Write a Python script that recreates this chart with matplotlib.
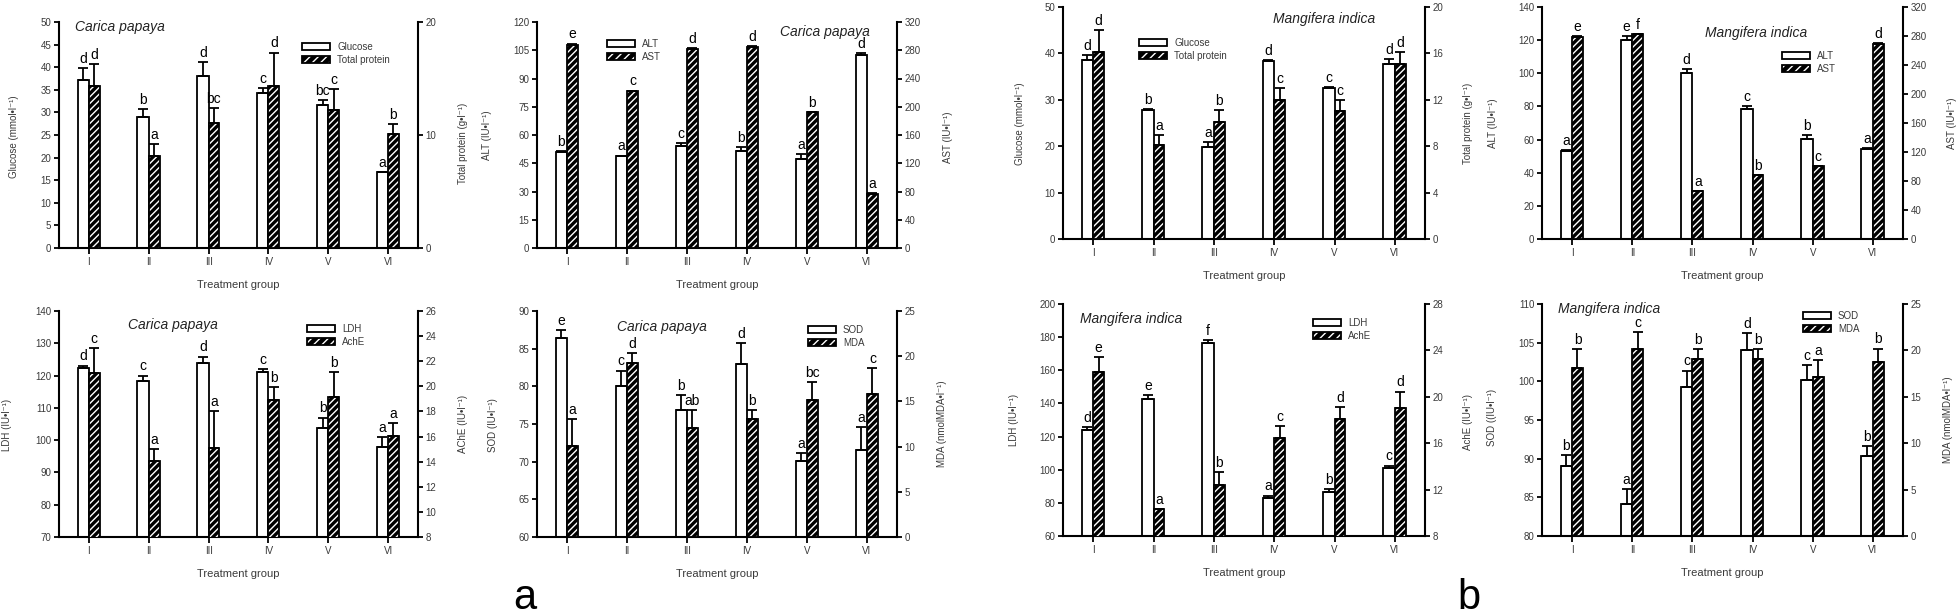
import matplotlib
matplotlib.use('Agg')
import matplotlib.pyplot as plt
from matplotlib.patches import Patch
import numpy as np

plt.rcParams['font.family'] = ['Liberation Sans', 'DejaVu Sans']
plt.rcParams['hatch.linewidth'] = 1.0

groups = ['I', 'II', 'III', 'IV', 'V', 'VI']

# ---------------- Carica papaya ----------------
cp_glu = [37.1, 28.9, 38.1, 34.4, 31.7, 16.8]
cp_glu_sd = [2.7, 1.9, 3.1, 1.0, 1.1, 0.1]
cp_glu_sig = ['d', 'b', 'd', 'c', 'bc', 'a']
cp_tp = [14.3, 8.1, 11.1, 14.3, 12.2, 10.1]
cp_tp_sd = [2.0, 1.1, 1.3, 3.0, 1.9, 0.9]
cp_tp_sig = ['d', 'a', 'bc', 'd', 'c', 'b']

cp_alt = [51.0, 48.9, 54.2, 51.6, 47.3, 102.4]
cp_alt_sd = [0.4, 0.2, 1.6, 2.1, 2.7, 0.9]
cp_alt_sig = ['b', 'a', 'c', 'b', 'a', 'd']
cp_ast = [288, 222, 282, 285, 192, 76.6]
cp_ast_sd = [1.5, 1.0, 1.0, 1.0, 1.0, 1.0]
cp_ast_sig = ['e', 'c', 'd', 'd', 'b', 'a']

cp_ldh = [122.2, 118.2, 124.0, 121.0, 103.9, 98.0]
cp_ldh_sd = [0.9, 1.8, 1.9, 0.9, 3.1, 3.1]
cp_ldh_sig = ['d', 'c', 'd', 'c', 'b', 'a']
cp_ache = [21.04, 14.04, 15.1, 18.95, 19.13, 16.06]
cp_ache_sd = [2.0, 1.0, 2.9, 1.0, 2.0, 1.0]
cp_ache_sig = ['c', 'a', 'a', 'b', 'b', 'a']

cp_sod = [86.47, 80.1, 76.8, 82.9, 70.1, 71.5]
cp_sod_sd = [1.0, 2.0, 2.1, 2.9, 1.0, 3.1]
cp_sod_sig = ['e', 'c', 'b', 'd', 'a', 'a']
cp_mda = [10.1, 19.3, 12.1, 13.1, 15.2, 15.8]
cp_mda_sd = [2.9, 1.0, 1.9, 0.9, 1.9, 2.9]
cp_mda_sig = ['a', 'd', 'ab', 'b', 'bc', 'c']

# ---------------- Mangifera indica ----------------
mi_glu = [38.6, 27.7, 19.8, 38.4, 32.6, 37.7]
mi_glu_sd = [1.1, 0.3, 1.1, 0.1, 0.1, 1.1]
mi_glu_sig = ['d', 'b', 'a', 'd', 'c', 'd']
mi_tp = [16.1, 8.1, 10.1, 12.0, 11.0, 15.1]
mi_tp_sd = [1.9, 0.9, 1.0, 1.0, 1.0, 1.0]
mi_tp_sig = ['d', 'a', 'b', 'c', 'c', 'd']

mi_alt = [53.3, 119.9, 100.2, 78.5, 60.6, 54.1]
mi_alt_sd = [0.4, 2.6, 2.4, 1.6, 2.2, 0.8]
mi_alt_sig = ['a', 'e', 'd', 'c', 'b', 'a']
mi_ast = [278.6, 282.3, 66.2, 87.8, 100.7, 269.4]
mi_ast_sd = [1.0, 1.0, 0.5, 0.5, 0.5, 1.0]
mi_ast_sig = ['e', 'f', 'a', 'b', 'c', 'd']

mi_ldh = [124.1, 142.8, 176.4, 82.8, 86.4, 100.9]
mi_ldh_sd = [1.4, 2.0, 2.1, 1.6, 2.2, 1.6]
mi_ldh_sig = ['d', 'e', 'f', 'a', 'b', 'c']
mi_ache = [22.1, 10.3, 12.4, 16.46, 18.1, 19.05]
mi_ache_sd = [1.35, 0.05, 1.1, 1.0, 1.0, 1.4]
mi_ache_sig = ['e', 'a', 'b', 'c', 'd', 'd']

mi_sod = [89.1, 84.2, 99.3, 104.1, 100.2, 90.4]
mi_sod_sd = [1.4, 1.9, 2.1, 2.2, 1.9, 1.2]
mi_sod_sig = ['b', 'a', 'c', 'd', 'c', 'b']
mi_mda = [18.1, 20.1, 19.1, 19.1, 17.1, 18.7]
mi_mda_sd = [2.0, 1.9, 1.0, 1.0, 1.9, 1.5]
mi_mda_sig = ['b', 'c', 'b', 'b', 'a', 'b']

# tick sets
t_glu5 = np.arange(0, 51, 5)
t_tp10 = [0, 10, 20]
t_alt15 = np.arange(0, 121, 15)
t_ast40 = np.arange(0, 321, 40)
t_ldh10 = np.arange(70, 141, 10)
t_ache2 = np.arange(8, 27, 2)
t_sod5a = np.arange(60, 91, 5)
t_mda5 = np.arange(0, 26, 5)
t_glu10 = np.arange(0, 51, 10)
t_tp4 = np.arange(0, 21, 4)
t_alt20 = np.arange(0, 141, 20)
t_ldh20 = np.arange(60, 201, 20)
t_ache4 = np.arange(8, 29, 4)
t_sod5b = np.arange(80, 111, 5)

CP = 'Carica papaya'
MI = 'Mangifera indica'
U = 'IU\u2022l\u207b\u00b9'

W, H = 1960, 616
fig = plt.figure(figsize=(W / 100, H / 100), dpi=100)

TXT = '#3a3a3a'


def fx(px):
    return px / W


def fy(py):
    return 1 - py / H


def panel(box, lv, lsd, lsig, rv, rsd, rsig, lt, rt, lname, rname,
          llab, llab_xy, rlab, rlab_xy, title, title_xy, leg_xy):
    l, r, t, b = box
    ax = fig.add_axes([fx(l), fy(b), (r - l) / W, (b - t) / H])
    ax2 = ax.twinx()
    x = np.arange(len(groups))
    wl, wr = 0.19, 0.18
    xl = x - wl / 2
    xr = x + wr / 2
    lv = np.asarray(lv, float)
    rv = np.asarray(rv, float)
    ax.bar(xl, lv, wl, facecolor='white', edgecolor='black', linewidth=1.3, zorder=1)
    ax.errorbar(xl, lv, yerr=[np.zeros(len(lv)), lsd], fmt='none', ecolor='black',
                elinewidth=1.3, capsize=3.5, capthick=1.3, zorder=2)
    ax2.bar(xr, rv, wr, facecolor='black', edgecolor='white', hatch='/////',
            linewidth=0, zorder=1)
    ax2.bar(xr, rv, wr, fill=False, edgecolor='black', linewidth=1.3, zorder=1.5)
    ax2.errorbar(xr, rv, yerr=[np.zeros(len(rv)), rsd], fmt='none', ecolor='black',
                 elinewidth=1.3, capsize=3.5, capthick=1.3, zorder=2)

    ax.set_xlim(-0.5, 5.5)
    ax.set_ylim(lt[0], lt[-1])
    ax2.set_ylim(rt[0], rt[-1])
    ax.set_yticks(lt)
    ax2.set_yticks(rt)
    ax.set_xticks(x, groups)

    for s in ['top', 'right']:
        ax.spines[s].set_visible(False)
    for s in ['top', 'left', 'bottom']:
        ax2.spines[s].set_visible(False)
    for s in ['left', 'bottom']:
        ax.spines[s].set_linewidth(1.5)
    ax2.spines['right'].set_linewidth(1.5)

    ax.tick_params(axis='y', direction='out', length=3.5, width=1.3,
                   labelsize=7, labelcolor=TXT, pad=2)
    ax2.tick_params(axis='y', direction='out', length=3.5, width=1.3,
                    labelsize=7, labelcolor=TXT, pad=2)
    ax.tick_params(axis='x', direction='out', length=4.5, width=1.3,
                   labelsize=7, labelcolor=TXT, pad=2)

    # significance letters (all drawn in the top axes)
    for xi, v, s, g in zip(xl, lv, lsd, lsig):
        ax2.annotate(g, xy=(xi, v + s), xycoords=ax.transData, xytext=(0, 1.5),
                     textcoords='offset points', ha='center', va='bottom',
                     fontsize=10, annotation_clip=False)
    for xi, v, s, g in zip(xr, rv, rsd, rsig):
        ax2.annotate(g, xy=(xi, v + s), xycoords=ax2.transData, xytext=(0, 1.5),
                     textcoords='offset points', ha='center', va='bottom',
                     fontsize=10, annotation_clip=False)

    hgt = b - t
    wid = r - l
    ax.set_xlabel('Treatment group', fontsize=8, color=TXT)
    ax.xaxis.set_label_coords(0.5, -37 / hgt)
    ax.xaxis.label.set_verticalalignment('center')

    ax.set_ylabel(llab, fontsize=7, color=TXT)
    ax.yaxis.set_label_coords((llab_xy[0] - l) / wid, (b - llab_xy[1]) / hgt)
    ax.yaxis.label.set_verticalalignment('center')
    ax2.set_ylabel(rlab, fontsize=7, color=TXT)
    ax2.yaxis.set_label_coords((rlab_xy[0] - l) / wid, (b - rlab_xy[1]) / hgt)
    ax2.yaxis.label.set_verticalalignment('center')

    fig.text(fx(title_xy[0]), fy(title_xy[1]), title, style='italic', fontsize=10,
             ha='left', va='center', color='#222222')

    h1 = Patch(facecolor='white', edgecolor='black', linewidth=1.3)
    h2a = Patch(facecolor='black', edgecolor='white', hatch='////', linewidth=0)
    h2b = Patch(facecolor='none', edgecolor='black', linewidth=1.3)
    ax2.legend([h1, (h2a, h2b)], [lname, rname], loc='upper left',
               bbox_to_anchor=(fx(leg_xy[0]), fy(leg_xy[1])),
               bbox_transform=fig.transFigure, frameon=False, fontsize=7,
               handlelength=2.9, handleheight=0.75, handletextpad=0.7,
               labelspacing=0.3, borderpad=0, borderaxespad=0)
    for txt in ax2.get_legend().get_texts():
        txt.set_color(TXT)


panel((59, 418, 22, 248), cp_glu, cp_glu_sd, cp_glu_sig, cp_tp, cp_tp_sd, cp_tp_sig,
      t_glu5, t_tp10, 'Glucose', 'Total protein',
      'Glucose (mmol\u2022l\u207b\u00b9)', (14, 137),
      'Total protein (g\u2022l\u207b\u00b9)', (463, 143),
      CP, (75, 27), (302, 42))
panel((537, 897, 22, 248), cp_alt, cp_alt_sd, cp_alt_sig, cp_ast, cp_ast_sd, cp_ast_sig,
      t_alt15, t_ast40, 'ALT', 'AST',
      'ALT (' + U + ')', (487, 135), 'AST (' + U + ')', (948, 137),
      CP, (780, 32), (607, 39))
panel((1063, 1425, 7, 239), mi_glu, mi_glu_sd, mi_glu_sig, mi_tp, mi_tp_sd, mi_tp_sig,
      t_glu10, t_tp4, 'Glucose', 'Total protein',
      'Glucose (mmol\u2022l\u207b\u00b9)', (1020, 124),
      'Total protein (g\u2022l\u207b\u00b9)', (1468, 123),
      MI, (1273, 19), (1139, 38))
panel((1542, 1903, 7, 239), mi_alt, mi_alt_sd, mi_alt_sig, mi_ast, mi_ast_sd, mi_ast_sig,
      t_alt20, t_ast40, 'ALT', 'AST',
      'ALT (' + U + ')', (1493, 123), 'AST (' + U + ')', (1952, 123),
      MI, (1705, 33), (1782, 51))
panel((59, 418, 311, 537), cp_ldh, cp_ldh_sd, cp_ldh_sig, cp_ache, cp_ache_sd, cp_ache_sig,
      t_ldh10, t_ache2, 'LDH', 'AchE',
      'LDH (' + U + ')', (7, 425), 'AChE (' + U + ')', (463, 424),
      CP, (128, 325), (307, 324))
panel((537, 897, 311, 537), cp_sod, cp_sod_sd, cp_sod_sig, cp_mda, cp_mda_sd, cp_mda_sig,
      t_sod5a, t_mda5, 'SOD', 'MDA',
      'SOD (' + U + ')', (493, 425), 'MDA (nmolMDA\u2022l\u207b\u00b9)', (942, 424),
      CP, (617, 327), (808, 325))
panel((1063, 1425, 304, 536), mi_ldh, mi_ldh_sd, mi_ldh_sig, mi_ache, mi_ache_sd, mi_ache_sig,
      t_ldh20, t_ache4, 'LDH', 'AchE',
      'LDH (' + U + ')', (1014, 420), 'AchE (' + U + ')', (1468, 422),
      MI, (1080, 319), (1313, 318))
panel((1542, 1903, 304, 536), mi_sod, mi_sod_sd, mi_sod_sig, mi_mda, mi_mda_sd, mi_mda_sig,
      t_sod5b, t_mda5, 'SOD', 'MDA',
      'SOD ((' + U + ')', (1492, 417), 'MDA (nmolMDA\u2022l\u207b\u00b9)', (1948, 420),
      MI, (1558, 309), (1803, 311))

fig.text(fx(525), fy(598), 'a', fontsize=30, ha='center', va='center')
fig.text(fx(1469), fy(598), 'b', fontsize=30, ha='center', va='center')

fig.savefig('out.png', dpi=100, facecolor='white')
